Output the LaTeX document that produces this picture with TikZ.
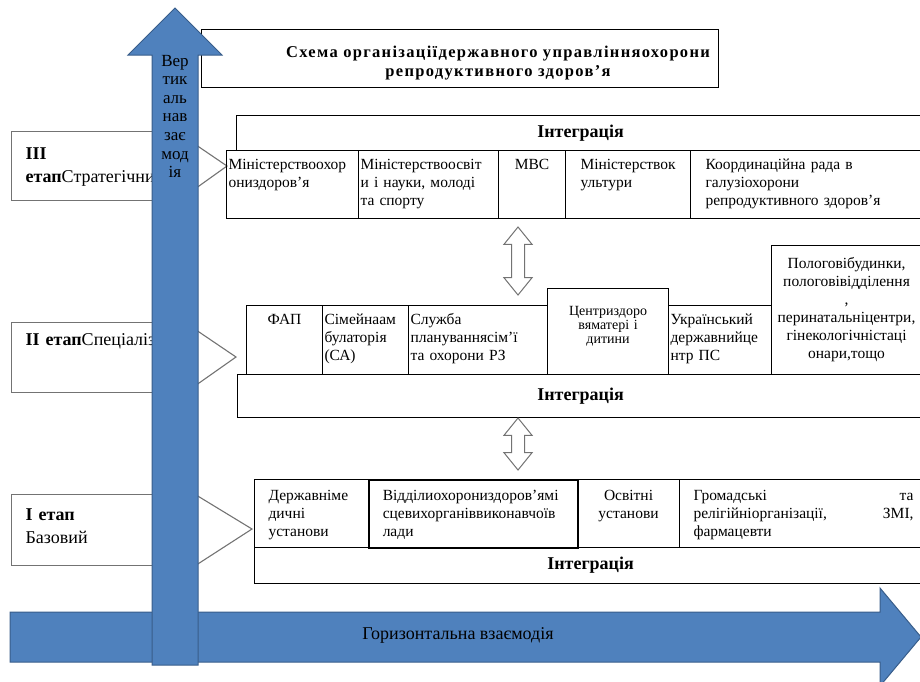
\documentclass[tikz,border=0pt]{standalone}
\usepackage{fontspec}
\setmainfont{Liberation Serif}
\usepackage{tikz}
\usetikzlibrary{positioning, shapes.arrows}
\usepackage{xcolor}
\definecolor{flowBlue}{RGB}{79, 129, 189}
\definecolor{flowEdge}{RGB}{56, 93, 138}
\definecolor{stageGray}{RGB}{115, 115, 115}

\newcommand{\cellfont}{\fontsize{15.5}{18}\selectfont}

\begin{document}
\begin{tikzpicture}[
  x=1pt, y=-1pt,
  cell/.style={draw, line width=1.1pt, anchor=north west, inner xsep=2pt, inner ysep=0pt, align=left, font=\cellfont},
  bar/.style={draw, line width=1.1pt, anchor=north west, inner sep=0pt, font=\fontsize{18}{20}\selectfont\bfseries},
  stagebox/.style={draw=stageGray, line width=1.1pt, fill=white, anchor=north west,
    text width=156pt, inner xsep=14pt, inner ysep=0pt, align=left, font=\fontsize{18}{23}\selectfont},
  wedge/.style={draw=stageGray, line width=1.1pt},
  updown/.style={double arrow, draw=stageGray, line width=1pt, fill=white, rotate=90,
    inner xsep=0pt, inner ysep=6pt, double arrow head extend=7.5pt, double arrow tip angle=78},
  bigarrow/.style={fill=flowBlue, draw=flowEdge, line width=1pt}
]
  \clip (0,0) rectangle (920,681);

  % --- Stages (text hidden past the box edge) ---
  \begin{scope}
    \clip (0,0) rectangle (197,681);
    \node[stagebox, text height=28pt, text depth=41pt] (st3) at (11,131) {\textbf{III}\\\textbf{етап}Стратегічний};
    \node[stagebox, text height=23pt, text depth=47pt] (st2) at (11,322) {\textbf{II~етап}Спеціалізований};
    \node[stagebox, text height=26pt, text depth=45pt] (st1) at (11,494) {\textbf{I етап}\\Базовий};
  \end{scope}
  \coordinate (tip3) at (227,166);
  \coordinate (tip2) at (236,357);
  \coordinate (tip1) at (252,529);
  \draw[wedge] ([yshift=-14pt]st3.north east) -- (tip3) -- ([yshift=13pt]st3.south east);
  \draw[wedge] ([yshift=-8pt]st2.north east) -- (tip2) -- ([yshift=8pt]st2.south east);
  \draw[wedge] ([yshift=-1pt]st1.north east) -- (tip1) -- ([yshift=1pt]st1.south east);

  % --- Title ---
  \node[draw, line width=1.1pt, anchor=north west, minimum width=517pt, minimum height=58pt] (titlebox) at (201,29) {};
  \node[align=center, font=\fontsize{16.5}{19}\selectfont\bfseries\addfontfeature{LetterSpace=8}] (title) at (498,63)
    {Схема організаціїдержавного управлінняохорони\\репродуктивного здоров’я};

  % --- Level III ---
  \node[bar, minimum width=688pt, minimum height=35pt] (int3) at (236,115) {Інтеграція};
  \node[cell, text width=128pt, text height=19pt, text depth=49pt] (c31) at (226,150) {Міністерствоохор\\они{}здоров’я};
  \node[cell, text width=136pt, text height=19pt, text depth=49pt] (c32) at (358,150) {Міністерствоосвіт\\и і науки, молоді\\та спорту};
  \node[cell, text width=63pt, text height=19pt, text depth=49pt, align=center] (c33) at (498,150) {МВС};
  \node[cell, text width=95pt, inner xsep=15pt, text height=19pt, text depth=49pt] (c34) at (565,150) {Міністерствок\\ультури};
  \node[cell, text width=210pt, inner xsep=15pt, text height=19pt, text depth=49pt] (c35) at (690,150) {Координаційна рада в\\галузіохорони\\репродуктивного здоров’я};

  \node[updown, minimum height=68pt] (da1) at (518,261) {};

  % --- Level II ---
  \node[cell, text width=72pt, text height=19pt, text depth=50pt, align=center] (c21) at (246,305) {ФАП};
  \node[cell, text width=82pt, text height=19pt, text depth=50pt] (c22) at (322,305) {Сімейнаам\\булаторія\\(СА)};
  \node[cell, text width=135pt, text height=19pt, text depth=50pt] (c23) at (408,305) {Служба\\плануваннясім’ї\\та охорони РЗ};
  \node[cell, text width=117pt, text height=27pt, text depth=59pt, align=center,
    font=\fontsize{14}{14}\selectfont] (c24) at (547,288) {Центриздоро\\вяматері і\\дитини};
  \node[cell, text width=99pt, text height=19pt, text depth=50pt] (c25) at (668,305) {Український\\державнийце\\нтр ПС};
  \node[cell, text width=146pt, text height=23pt, text depth=106pt, align=center] (c26) at (771,245)
    {Пологовібудинки,\\пологовівідділення\\,\\перинатальніцентри,\\гінекологічністаці\\онари,тощо};
  \node[bar, minimum width=686pt, minimum height=43pt] (int2) at (237,374) {Інтеграція};

  \node[updown, minimum height=52pt] (da2) at (518,444) {};

  % --- Level I ---
  \node[cell, text width=86pt, inner xsep=14pt, text height=21pt, text depth=47pt] (c11) at (254,479) {Державніме\\дичні\\установи};
  \node[cell, text width=181pt, inner xsep=14pt, text height=21pt, text depth=47pt, line width=1.5pt] (c12) at (368,479)
    {Відділиохорониздоров’ямі\\сцевихорганіввиконавчоїв\\лади};
  \node[cell, text width=98pt, text height=21pt, text depth=47pt, align=center] (c13) at (577,479) {Освітні\\установи};
  \node[cell, text width=220pt, inner xsep=14pt, text height=21pt, text depth=47pt] (c14) at (679,479)
    {Громадські\hfill та\\релігійніорганізації,\hfill ЗМІ,\\фармацевти};
  \node[bar, minimum width=672pt, minimum height=36pt] (int1) at (254,547) {Інтеграція};

  % --- Interaction arrows ---
  \draw[bigarrow] (10,612) -- (880,612) -- (880,588) -- (921,637) -- (880,686) -- (880,662) -- (10,662) -- cycle;
  \node[font=\fontsize{18}{20}\selectfont] (horiz) at (458,635) {Горизонтальна взаємодія};
  \draw[bigarrow] (152,665) -- (152,55) -- (128,55) -- (175,8) -- (222,55) -- (198,55) -- (198,665) -- cycle;
  \node[text width=44pt, align=center, anchor=base, inner sep=0pt, font=\fontsize{17}{18.6}\selectfont] (vert) at (175,66)
    {Вер\\тик\\аль\\нав\\зає\\мод\\ія};
\end{tikzpicture}
\end{document}
